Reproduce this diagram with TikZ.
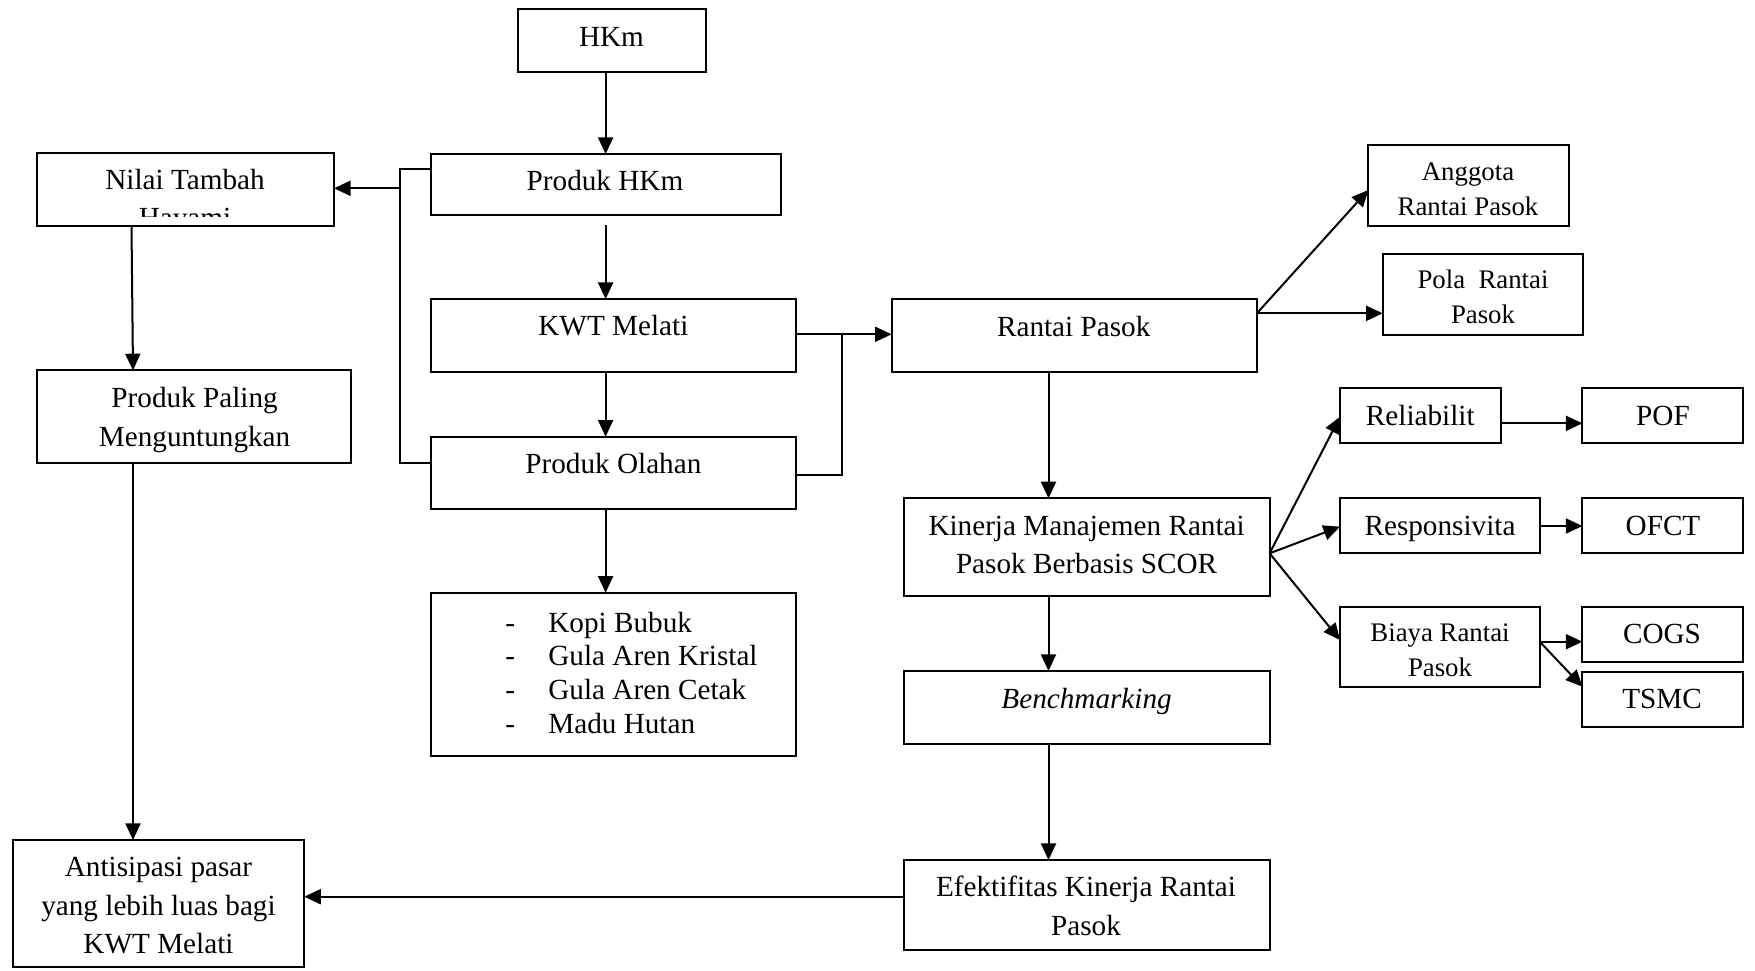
\documentclass[tikz,border=0pt]{standalone}
\usepackage{fontspec}
\setmainfont{Liberation Serif}
\usetikzlibrary{arrows.meta,calc}
\newcommand\mainsz{\fontsize{14.6}{19.1}\selectfont}
\newcommand\smallsz{\fontsize{13.4}{17.5}\selectfont}
\newcommand\lstsz{\fontsize{14.6}{16.85}\selectfont}
\newcommand\bx[5]{\node[box, minimum width={(#4-#2)*0.5pt}, minimum height={(#5-#3)*0.5pt}] (#1) at ({(#2+#4)/2},{(#3+#5)/2}) {};}
\begin{document}
\begin{tikzpicture}[x=0.5pt,y=-0.5pt,
  box/.style={draw, line width=1pt, inner sep=0pt, outer sep=0pt},
  txt/.style={font=\mainsz, align=center, inner sep=0pt, anchor=base},
  stxt/.style={font=\smallsz, align=center, inner sep=0pt, anchor=base},
  lst/.style={font=\lstsz, align=left, inner sep=0pt, anchor=base west},
  arr/.style={line width=1pt, -{Triangle[length=8.3pt,width=7.5pt]}},
  ln/.style={line width=1pt}]
\useasboundingbox[fill=white] (0,0) rectangle (1755,970);

% boxes (text anchors are at the baseline of the last line)
\bx{HKM}{518}{9.3}{705.5}{72.3}
\node[txt] (HKM-t) at (611.5,46.7) {HKm};
\bx{PHK}{430.5}{154}{780.7}{215}
\node[txt] (PHK-t) at (605,190) {Produk HKm};
\bx{NT}{36.7}{152.7}{334}{226}
\begin{scope}
  \clip (30,140) rectangle (340,216.7);
  \node[txt] (NT-t) at (185,227.3) {Nilai Tambah\\Hayami};
\end{scope}
\bx{PPM}{36.7}{370.3}{351.3}{463.3}
\node[txt] (PPM-t) at (194.6,446) {Produk Paling\\Menguntungkan};
\bx{KWT}{430.5}{299}{795.6}{371.7}
\node[txt] (KWT-t) at (613.4,335) {KWT Melati};
\bx{POL}{430.5}{436.7}{795.6}{509.3}
\node[txt] (POL-t) at (613.4,473.3) {Produk Olahan};
\bx{LST}{430.5}{592.7}{795.6}{756}
\node[lst] (LST-t) at (505,733.3) {\makebox[21.5pt][l]{-}Kopi Bubuk\\\makebox[21.5pt][l]{-}Gula Aren Kristal\\\makebox[21.5pt][l]{-}Gula Aren Cetak\\\makebox[21.5pt][l]{-}Madu Hutan};
\bx{ANT}{12.6}{840}{304.2}{967.3}
\node[txt] (ANT-t) at (158.5,953.3) {Antisipasi pasar\\yang lebih luas bagi\\KWT Melati};
\bx{RP}{891.6}{299}{1256.9}{371.7}
\node[txt] (RP-t) at (1073.7,336) {Rantai Pasok};
\bx{AG}{1368.3}{144.7}{1568.6}{226}
\node[stxt] (AG-t) at (1468,215) {Anggota\\Rantai Pasok};
\bx{PRP}{1382.7}{254}{1583}{335}
\node[stxt] (PRP-t) at (1483,323.3) {Pola\ \ Rantai\\Pasok};
\bx{KIN}{904.3}{498.3}{1269.6}{596}
\node[txt] (KIN-t) at (1086.6,573.3) {Kinerja Manajemen Rantai\\Pasok Berbasis SCOR};
\bx{BM}{904.3}{671}{1269.6}{744.3}
\node[txt] (BM-t) at (1086.6,708.3) {\textit{Benchmarking}};
\bx{EF}{904.3}{860}{1269.6}{950}
\node[txt] (EF-t) at (1086,935) {Efektifitas Kinerja Rantai\\Pasok};
\bx{REL}{1340}{388.3}{1501}{443.3}
\node[txt] (REL-t) at (1420.3,425) {Reliabilit};
\bx{POF}{1582.4}{388.3}{1742.9}{443.3}
\node[txt] (POF-t) at (1663,425) {POF};
\bx{RES}{1340}{498.3}{1539.7}{553.3}
\node[txt] (RES-t) at (1440,535) {Responsivita};
\bx{OFCT}{1582.4}{498.3}{1742.9}{553.3}
\node[txt] (OFCT-t) at (1663,535) {OFCT};
\bx{BI}{1340}{606.7}{1539.7}{687.3}
\node[stxt] (BI-t) at (1440,676.7) {Biaya Rantai\\Pasok};
\bx{COGS}{1582.4}{606.7}{1742.9}{661.7}
\node[txt] (COGS-t) at (1662,643.3) {COGS};
\bx{TS}{1582.4}{671.7}{1742.9}{726.7}
\node[txt] (TS-t) at (1662,708.3) {TSMC};

% helper coordinates
\coordinate (b1) at (400,169.3);
\coordinate (b2) at (400,463.3);
\coordinate (b3) at (400,188.3);
\coordinate (n1) at (131.5,226);
\coordinate (n2) at (133,370.3);
\coordinate (j1) at (841.6,334.3);
\coordinate (j2) at (841.6,475);
\coordinate (r1) at (1256.9,313.3);
\coordinate (ag) at (1368.3,190);
\coordinate (r2) at (1048.5,0);
\coordinate (e1) at (0,896.7);
\coordinate (k0) at (0,553.3);
\coordinate (k1) at (0,416.7);
\coordinate (k2) at (0,526.7);
\coordinate (k3) at (0,640);
\coordinate (p1) at (0,423.3);
\coordinate (p2) at (0,526);
\coordinate (p3) at (0,641.7);
\coordinate (p4) at (0,686.7);

% connectors
\draw[arr] (HKM.south -| PHK.north) -- (PHK.north);
\draw[arr] ($(PHK.south)+(0,10)$) -- (PHK.south |- KWT.north);
\draw[arr] (PHK.south |- KWT.south) -- (PHK.south |- POL.north);
\draw[arr] (PHK.south |- POL.south) -- (PHK.south |- LST.north);
\draw[ln] (PHK.west |- b1) -- (b1) -- (b2) -- (POL.west |- b2);
\draw[arr] (b3) -- (NT.east |- b3);
\draw[arr] (NT.south -| n1) -- (PPM.north -| n2);
\draw[arr] (PPM.south -| n2) -- (ANT.north -| n2);
\draw[arr] (KWT.east |- j1) -- (RP.west |- j1);
\draw[ln] (j1) -- (j2) -- (POL.east |- j2);
\draw[arr] (RP.east |- r1) -- (AG.west |- ag);
\draw[arr] (RP.east |- r1) -- (PRP.west |- r1);
\draw[arr] (RP.south -| r2) -- (KIN.north -| r2);
\draw[arr] (KIN.south -| r2) -- (BM.north -| r2);
\draw[arr] (BM.south -| r2) -- (EF.north -| r2);
\draw[arr] (EF.west |- e1) -- (ANT.east |- e1);
\draw[arr] (KIN.east |- k0) -- (REL.west |- k1);
\draw[arr] (KIN.east |- k0) -- (RES.west |- k2);
\draw[arr] (KIN.east |- k0) -- (BI.west |- k3);
\draw[arr] (REL.east |- p1) -- (POF.west |- p1);
\draw[arr] (RES.east |- p2) -- (OFCT.west |- p2);
\draw[arr] (BI.east |- p3) -- (COGS.west |- p3);
\draw[arr] (BI.east |- p3) -- (TS.west |- p4);
\end{tikzpicture}
\end{document}
